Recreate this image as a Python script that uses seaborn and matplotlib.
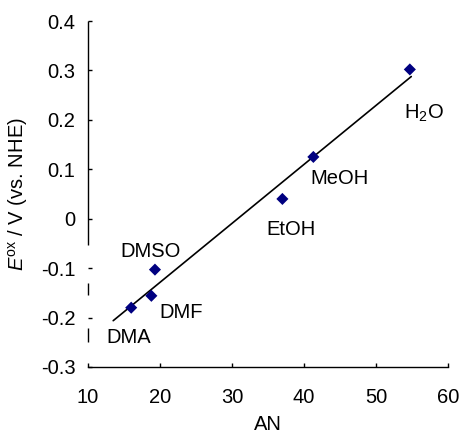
import numpy as np
import pandas as pd
import matplotlib
matplotlib.use("Agg")
import matplotlib.pyplot as plt
from matplotlib.ticker import FuncFormatter
import seaborn as sns

# data
solvents = ["DMA", "DMF", "DMSO", "EtOH", "MeOH", "H$_2$O"]
an = [16.0, 18.8, 19.3, 37.0, 41.3, 54.7]
e_ox = [-0.180, -0.156, -0.103, 0.040, 0.125, 0.302]
fit_x = [13.5, 54.9]

# label positions (data coords)
label_x = [15.6, 22.9, 18.75, 38.2, 44.9, 56.7]
label_y = [-0.241, -0.190, -0.067, -0.021, 0.082, 0.214]

sns.set_style("ticks")
plt.rcParams["font.family"] = ["Liberation Sans", "DejaVu Sans"]
plt.rcParams["mathtext.fontset"] = "custom"
plt.rcParams["mathtext.rm"] = "Liberation Sans"
plt.rcParams["mathtext.it"] = "Liberation Sans:italic"
plt.rcParams["axes.unicode_minus"] = False
for k in ["text.color", "axes.labelcolor", "xtick.color", "ytick.color"]:
    plt.rcParams[k] = "black"

FS = 14.5

df = pd.DataFrame({"AN": an, "E": e_ox, "solvent": solvents})
slope, intercept = np.polyfit(an, e_ox, 1)
fit = pd.DataFrame({"AN": fit_x, "E": slope * np.array(fit_x) + intercept})

fig = plt.figure(figsize=(4.6, 4.34), dpi=100)
ax = fig.add_axes([0.1913, 0.1544, 0.7826, 0.7972])

sns.lineplot(data=fit, x="AN", y="E", color="black", linewidth=1.2, ax=ax)
sns.scatterplot(data=df, x="AN", y="E", marker="D", color="#000080",
                s=38, edgecolor="none", ax=ax, zorder=3)

for t, lx, ly in zip(solvents, label_x, label_y):
    ax.text(lx, ly, t, fontsize=FS, ha="center", va="center")

ax.set_xlim(10, 60)
ax.set_ylim(-0.3, 0.4)
ax.set_xticks(np.arange(10, 61, 10))
ax.set_yticks(np.arange(-0.3, 0.41, 0.1))
ax.yaxis.set_major_formatter(FuncFormatter(lambda v, p: f"{v:.1f}" if abs(v) > 1e-9 else "0"))

ax.set_xlabel("AN", fontsize=FS, labelpad=6)
ax.set_ylabel(r"$E^{\rm ox}$ / V (vs. NHE)", fontsize=FS, labelpad=8)

ax.tick_params(axis="both", direction="in", length=3, width=1, labelsize=FS)
ax.tick_params(axis="x", pad=15)
ax.tick_params(axis="y", pad=9)

for s in ["top", "right", "left"]:
    ax.spines[s].set_visible(False)
ax.spines["bottom"].set_linewidth(1)
ax.spines["bottom"].set_color("black")

# left axis line is broken in the original where labels overlap it
for y0, y1 in [(0.3526, 1.0), (0.2081, 0.2428), (0.0723, 0.1127)]:
    ax.plot([0, 0], [y0, y1], transform=ax.transAxes, color="black",
            linewidth=1, clip_on=False, solid_capstyle="butt")

fig.savefig("out.png", dpi=100)
